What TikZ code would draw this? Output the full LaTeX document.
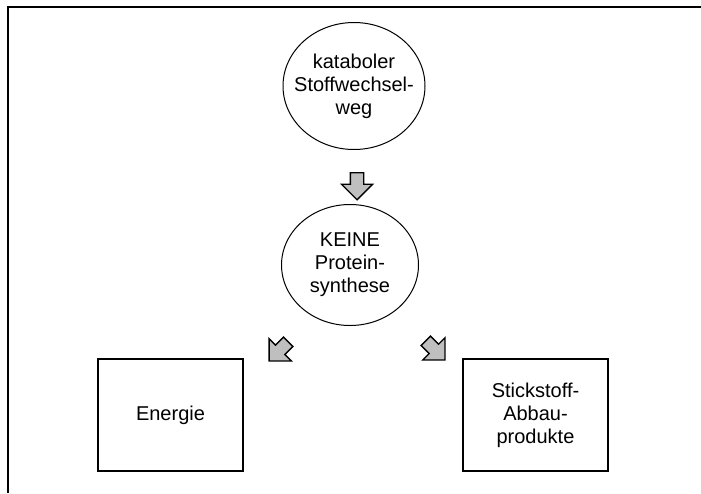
\documentclass[tikz,border=0pt]{standalone}
\usepackage{fontspec}
\setmainfont{Liberation Sans}
\usetikzlibrary{shapes.geometric,shapes.arrows}

\begin{document}
\begin{tikzpicture}[x=1pt, y=1pt,
    txt/.style={align=center, font=\fontsize{20}{23}\selectfont},
    circ/.style={txt, draw, ellipse, line width=1pt, inner xsep=-20pt, inner ysep=-10pt},
    box/.style={txt, draw, rectangle, line width=1.3pt, minimum width=145pt, minimum height=112pt},
    blockarrow/.style={single arrow, draw, fill=black!25, line width=1.3pt, minimum height=27pt, minimum width=30pt, inner sep=6pt, single arrow head extend=9pt}]
    \useasboundingbox (0, 0) rectangle (701, -493);

    % rahmen
    \draw[line width=1.3pt] (8, -493) -- (8, -7) -- (701, -7);

    \node[circ, minimum width=142pt, minimum height=127pt] (weg) at (354, -86) {kataboler\\Stoffwechsel-\\weg};
    \node[circ, minimum width=137pt, minimum height=121pt] (synthese) at (350, -265) {KEINE\\Protein-\\synthese};
    \node[box] (energie) at (170.5, -415) {Energie};
    \node[box] (abbau) at (535.5, -415) {Stickstoff-\\Abbau-\\produkte};

    \node[blockarrow, rotate=-90] (weg_pfeil) at (357, -183) {};
    \node[blockarrow, rotate=225] (energie_pfeil) at (281, -349) {};
    \node[blockarrow, rotate=-45] (abbau_pfeil) at (433, -348) {};

\end{tikzpicture}
\end{document}
